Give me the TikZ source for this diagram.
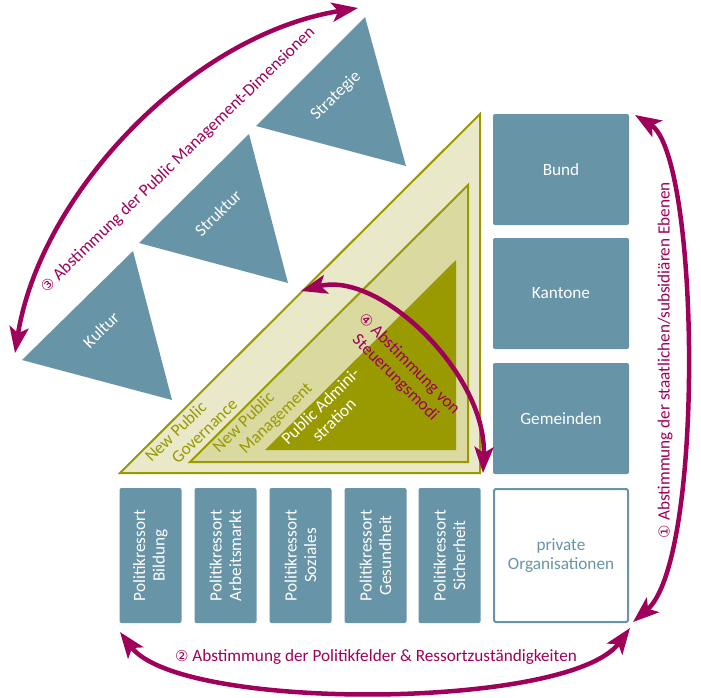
\documentclass[tikz,border=0pt]{standalone}
\usepackage{fontspec}
\setmainfont{Carlito}
\newfontfamily\circfont{DejaVu Sans}
\usetikzlibrary{arrows.meta}

\definecolor{boxblue}{RGB}{104,148,168}
\definecolor{olivegreen}{RGB}{153,153,0}
\definecolor{palegreen}{RGB}{233,233,201}
\definecolor{midgreen}{RGB}{217,217,160}
\definecolor{plum}{RGB}{158,0,90}

\newcommand{\diafont}{\fontsize{17.2}{19.5}\selectfont}
\newcommand{\circnum}[1]{{\circfont\fontsize{15}{15}\selectfont #1}}

\tikzset{
  levelbox/.style={fill=boxblue, rounded corners=2pt, minimum width=136pt,
    minimum height=111pt, inner sep=0pt, text=white, align=center},
  ressortbox/.style={fill=boxblue, rounded corners=2pt, minimum width=135pt,
    minimum height=62pt, inner sep=0pt, text=white, align=center, rotate=90},
  dimlabel/.style={text=white, rotate=44, inner sep=1pt},
  abstimmung/.style={draw=plum, line width=4.5pt,
    {Stealth[length=26pt,width=19pt,inset=6pt]}-{Stealth[length=26pt,width=19pt,inset=6pt]}},
  plumlabel/.style={text=plum, inner sep=1pt}
}

\begin{document}
\begin{tikzpicture}[x=1pt, y=-1pt, font=\diafont]
\useasboundingbox (0,0) rectangle (701,697);

% Public Management-Dimensionen
\fill[boxblue] (365,17) -- (256,126) -- (406,166) -- cycle;
\fill[boxblue] (249,134) -- (139,243) -- (288,283) -- cycle;
\fill[boxblue] (133,251) -- (22,360) -- (172,400) -- cycle;
\node[dimlabel] (strategie) at (336,96) {Strategie};
\node[dimlabel] (struktur) at (218,213) {Struktur};
\node[dimlabel] (kultur) at (101,330) {Kultur};

% Steuerungsmodi
\filldraw[fill=palegreen, draw=olivegreen, line width=2pt]
  (120,473) -- (480,114) -- (480,473) -- cycle;
\filldraw[fill=midgreen, draw=olivegreen, line width=2pt]
  (190,462) -- (468,185) -- (468,462) -- cycle;
\fill[olivegreen] (265,450) -- (456,260) -- (456,450) -- cycle;
\node[text=olivegreen, rotate=44, align=left, inner sep=1pt] (npg) at (191,430)
  {New Public\\\hspace*{18pt}Governance};
\node[text=olivegreen, rotate=44, align=left, inner sep=1pt] (npm) at (263,418)
  {New Public\\\hspace*{18pt}Management};
\node[text=white, rotate=44, align=center, inner sep=1pt] (pa) at (327,413)
  {Public Admini-\\stration};

% staatliche Ebenen
\node[levelbox] (bund) at (561,169.5) {Bund};
\node[levelbox] (kantone) at (561,293.5) {Kantone};
\node[levelbox] (gemeinden) at (561,418.5) {Gemeinden};
\node[levelbox, fill=white, draw=boxblue, line width=2pt, text=boxblue,
  minimum width=134pt, minimum height=133pt] (privat) at (561,555.5)
  {private\\Organisationen};

% Politikressorts
\node[ressortbox] (bildung) at (150.5,555.5) {Politikressort\\Bildung};
\node[ressortbox] (arbeit) at (225.5,555.5) {Politikressort\\Arbeitsmarkt};
\node[ressortbox] (soziales) at (300.5,555.5) {Politikressort\\Soziales};
\node[ressortbox] (gesundheit) at (375.5,555.5) {Politikressort\\Gesundheit};
\node[ressortbox] (sicherheit) at (449.5,555.5) {Politikressort\\Sicherheit};

% Abstimmungen
\coordinate (ebene-o) at (635,115);
\coordinate (ebene-u) at (633,622);
\coordinate (feld-l) at (120,632);
\coordinate (feld-r) at (630,628);
\coordinate (dim-u) at (15,353);
\coordinate (dim-o) at (358,8);
\coordinate (modus-l) at (301,291);
\coordinate (modus-u) at (483,473);

\draw[abstimmung] (ebene-o) .. controls (700,155) and (705,560) .. (ebene-u);
\draw[abstimmung] (feld-l) .. controls (180,712) and (570,710) .. (feld-r);
\draw[abstimmung] (dim-u) .. controls (40,195) and (190,35) .. (dim-o);
\draw[abstimmung] (modus-l) .. controls (380,270) and (487,375) .. (modus-u);

\node[plumlabel, rotate=90] (lbl-ebene) at (665,360)
  {\circnum{①} Abstimmung der staatlichen/subsidiären Ebenen};
\node[plumlabel] (lbl-feld) at (376,657)
  {\circnum{②} Abstimmung der Politikfelder \& Ressortzuständigkeiten};
\node[plumlabel, rotate=44] (lbl-dim) at (178,160)
  {\circnum{③} Abstimmung der Public Management-Dimensionen};
\node[plumlabel, rotate=-45, align=center] (lbl-modus) at (402,371)
  {\circnum{④} Abstimmung von\\Steuerungsmodi};
\end{tikzpicture}
\end{document}
